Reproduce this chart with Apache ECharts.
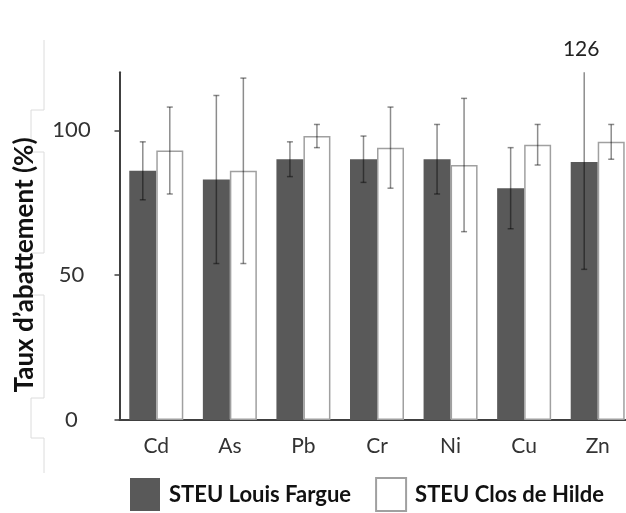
<!DOCTYPE html>
<html>
<head>
<meta charset="utf-8">
<script src="https://cdn.jsdelivr.net/npm/echarts@6/dist/echarts.min.js"></script>
<style>html,body{margin:0;padding:0;background:#fff;}#c{width:626px;height:513px;}</style>
</head>
<body>
<div id="c"></div>
<script>
const categories = ['Cd', 'As', 'Pb', 'Cr', 'Ni', 'Cu', 'Zn'];
const seriesNames = ['STEU Louis Fargue', 'STEU Clos de Hilde'];
const fargueMean = [86, 83, 90, 90, 90, 80, 89];
const fargueErr  = [10, 29, 6, 8, 12, 14, 37];
const hildeMean  = [93, 86, 98, 94, 88, 95, 96];
const hildeErr   = [15, 32, 4, 14, 23, 7, 6];
const yTicks = [0, 50, 100];
const Y_MIN = 0, Y_MAX = 120;
const yTitle = 'Taux d\u2019abattement (%)';

const FONT = 'Lato';
const BAR_W = 27;

function errData(mean, err) {
  return mean.map((m, i) => [i, m - err[i], m + err[i]]);
}

function makeErrRender(side) {
  return function (params, api) {
    const idx = api.value(0);
    const lo = api.value(1);
    const hi = api.value(2);
    const off = side * BAR_W / 2;
    const pLo = api.coord([idx, lo]);
    const pHi = api.coord([idx, Math.min(hi, Y_MAX)]);
    const x = pLo[0] + off;
    const cap = 3;
    const st = { stroke: 'rgba(0,0,0,0.45)', lineWidth: 1.5 };
    const children = [
      { type: 'line', shape: { x1: x, y1: pLo[1], x2: x, y2: pHi[1] }, style: st },
      { type: 'line', shape: { x1: x - cap, y1: pLo[1], x2: x + cap, y2: pLo[1] }, style: st }
    ];
    if (hi <= Y_MAX) {
      children.push({ type: 'line', shape: { x1: x - cap, y1: pHi[1], x2: x + cap, y2: pHi[1] }, style: st });
    } else {
      children.push({ type: 'text', style: { text: String(hi), x: x - 3, y: pHi[1] - 13, align: 'center', verticalAlign: 'bottom', fontSize: 21, fontFamily: FONT, fill: '#222' } });
    }
    return { type: 'group', children: children };
  };
}

const chart = echarts.init(document.getElementById('c'), null, { renderer: 'canvas' });
chart.setOption({
  animation: false,
  backgroundColor: '#fff',
  grid: { left: 119.5, width: 515, top: 72.3, bottom: 93, containLabel: false, outerBoundsMode: 'none' },
  graphic: [{
    type: 'polyline', z: -10,
    shape: { points: [[44,40],[44,110],[31,110],[31,152],[44,152],[44,253],[31,253],[31,295],[44,295],[44,398],[31,398],[31,438],[44,438],[44,473]] },
    style: { stroke: '#dcdcdc', lineWidth: 1, fill: null }
  }, {
    type: 'text', z: 10, x: 25, y: 265, rotation: Math.PI / 2,
    style: { text: yTitle, align: 'center', verticalAlign: 'middle', fontFamily: FONT, fontWeight: 'bold', fontSize: 26, fill: '#111' }
  }],
  legend: {
    left: 130, top: 477, padding: 0,
    itemWidth: 30, itemHeight: 33, itemGap: 24,
    icon: 'rect',
    textStyle: { fontFamily: FONT, fontWeight: 'bold', fontSize: 22, color: '#111', padding: [0, 0, 0, 4] },
    data: seriesNames
  },
  xAxis: {
    type: 'category', data: categories,
    axisLine: { lineStyle: { color: '#404040', width: 2 } },
    axisTick: { show: false },
    axisLabel: { fontFamily: FONT, fontSize: 21, color: '#333', margin: 16 }
  },
  yAxis: {
    type: 'value', min: Y_MIN, max: Y_MAX, interval: 50,
    axisLine: { show: true, lineStyle: { color: '#404040', width: 2 } },
    axisTick: { show: true, length: 5, customValues: yTicks, lineStyle: { color: '#404040', width: 1.5 } },
    axisLabel: { customValues: yTicks, fontFamily: FONT, fontSize: 22, color: '#333', align: 'center', margin: 48 },
    splitLine: { show: false }
  },
  series: [
    { name: seriesNames[0], type: 'bar', data: fargueMean, barWidth: BAR_W, barGap: '0%',
      itemStyle: { color: '#595959', borderColor: '#595959', borderWidth: 0 } },
    { name: seriesNames[1], type: 'bar', data: hildeMean, barWidth: BAR_W, barGap: '0%',
      itemStyle: { color: '#ffffff', borderColor: '#a0a0a0', borderWidth: 1.5 } },
    { type: 'custom', renderItem: makeErrRender(-1), data: errData(fargueMean, fargueErr), z: 5,
      encode: { x: 0, y: [1, 2] }, silent: true },
    { type: 'custom', renderItem: makeErrRender(1), data: errData(hildeMean, hildeErr), z: 5,
      encode: { x: 0, y: [1, 2] }, silent: true }
  ]
});
</script>
</body>
</html>
